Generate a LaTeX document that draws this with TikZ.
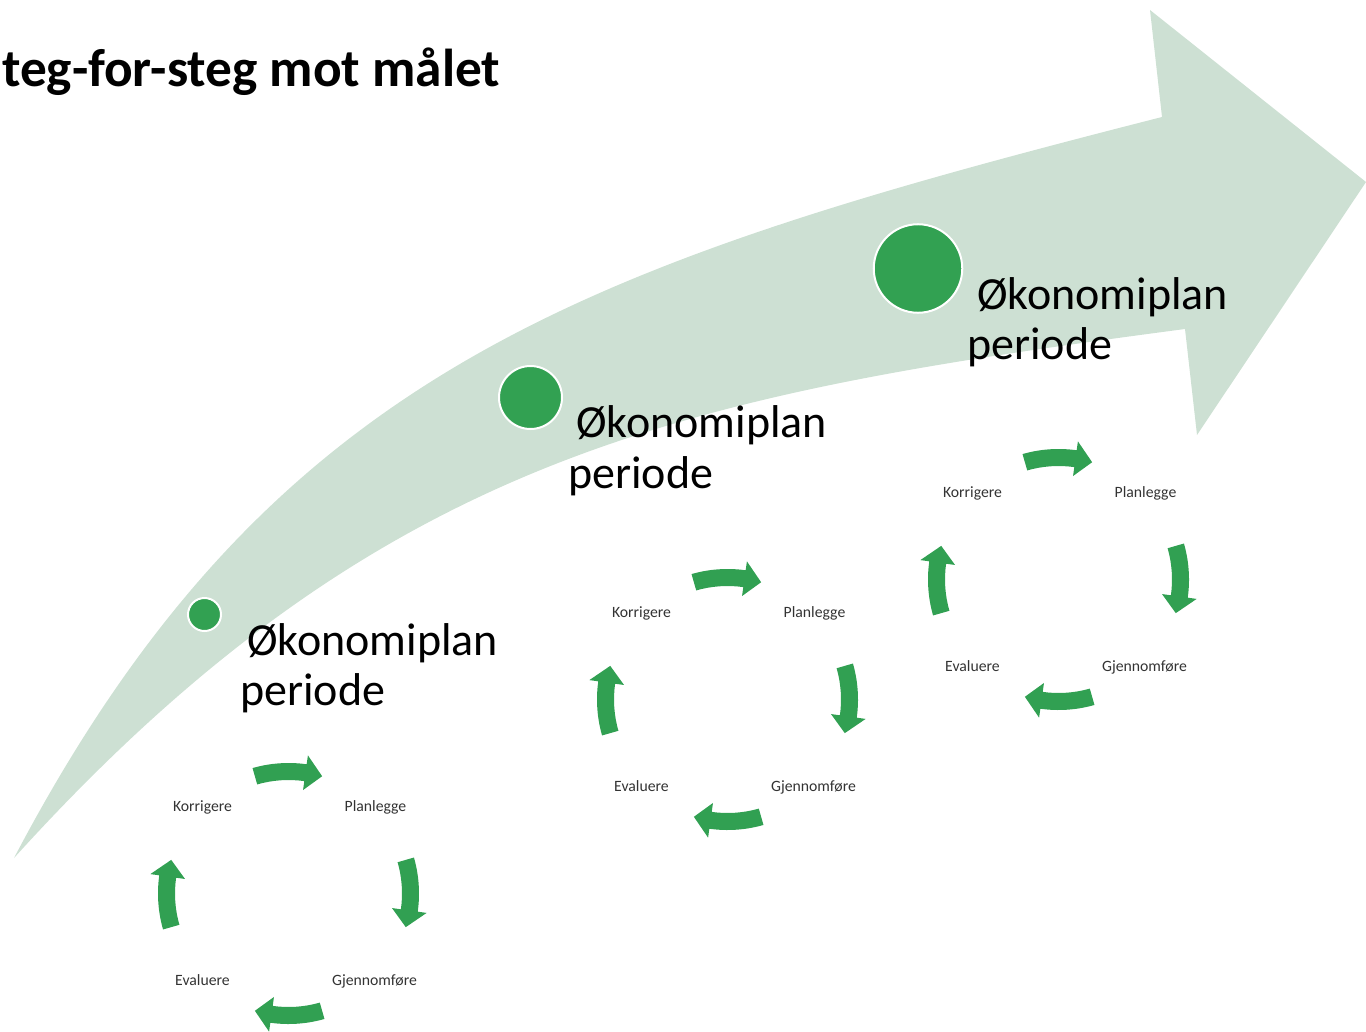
\documentclass[tikz,border=0pt]{standalone}
\usepackage{fontspec}
\setmainfont{Carlito}
\definecolor{arrowbg}{RGB}{205,224,211}
\definecolor{dotgreen}{RGB}{50,161,82}
\definecolor{cycgreen}{RGB}{49,160,82}
\definecolor{labelgray}{RGB}{51,51,51}
\begin{document}
\begin{tikzpicture}[x=0.75pt,y=-0.75pt,
  dot/.style={circle, fill=dotgreen, draw=white, line width=1.5pt, inner sep=0pt},
  biglabel/.style={anchor=base west, inner sep=0pt, font=\fontsize{34.5}{40}\selectfont},
  steplabel/.style={anchor=base, inner sep=0pt, text=labelgray, font=\fontsize{11.8}{14}\selectfont},
  cyc/.style={fill=cycgreen}]
\useasboundingbox (0,0) rectangle (1366,1031);
% big curved arrow
\fill[arrowbg] (14,858) .. controls (270,371) and (581,265) .. (1162,117)
  -- (1150,10) -- (1366,182) -- (1197,435) -- (1185,329)
  .. controls (689.5,394.5) and (382.5,451) .. (14,858) -- cycle;
% title
\node[anchor=base west, inner sep=0pt, font=\fontsize{40}{48}\selectfont\bfseries] (title) at (2,87) {teg-for-steg mot målet};
% milestone dots
\node[dot, minimum size=24.75pt] (d1) at (204.5,614.5) {};
\node[dot, minimum size=47.25pt] (d2) at (530.5,397.5) {};
\node[dot, minimum size=66.4pt] (d3) at (918,268.5) {};
% milestone labels
\node[biglabel] (l1a) at (247,655) {Økonomiplan};
\node[biglabel] (l1b) at (240,705) {periode};
\node[biglabel] (l2a) at (576,437) {Økonomiplan};
\node[biglabel] (l2b) at (568,488) {periode};
\node[biglabel] (l3a) at (977,309) {Økonomiplan};
\node[biglabel] (l3b) at (967,359) {periode};
% cycles
\foreach \cx/\cy/\n in {288.5/893.5/1, 727.5/699.5/2, 1058.5/579.5/3}{
  \coordinate (c\n) at (\cx,\cy);
  \node[steplabel] (k\n) at ([shift={(-86,-82)}]c\n) {Korrigere};
  \node[steplabel] (p\n) at ([shift={(87,-82)}]c\n) {Planlegge};
  \node[steplabel] (g\n) at ([shift={(86,91.5)}]c\n) {Gjennomføre};
  \node[steplabel] (e\n) at ([shift={(-86,91.5)}]c\n) {Evaluere};
  \begin{scope}[shift={(c\n)}, yscale=-1]
    \foreach \m in {90,0,-90,180}{
      \fill[cyc] ({\m+16}:130.5) arc[start angle={\m+16}, end angle={\m-8}, radius=130.5]
        -- ({\m-8}:139.5) -- ({\m-16}:122) -- ({\m-8}:104.5) -- ({\m-8}:113.5)
        arc[start angle={\m-8}, end angle={\m+16}, radius=113.5] -- cycle;
    }
  \end{scope}
}
\end{tikzpicture}
\end{document}
